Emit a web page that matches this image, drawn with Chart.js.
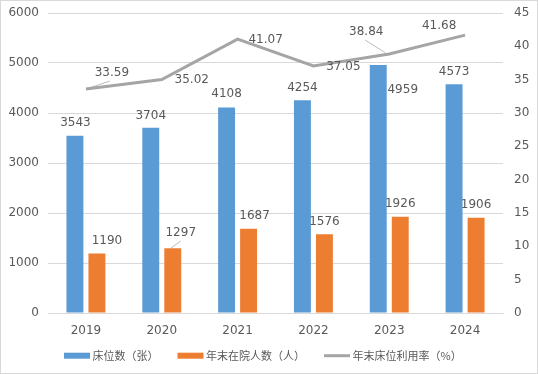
<!DOCTYPE html>
<html>
<head>
<meta charset="utf-8">
<script src="https://cdn.jsdelivr.net/npm/chart.js@4/dist/chart.umd.min.js"></script>
<style>
html, body { margin: 0; padding: 0; background: #fff; }
#box { position: absolute; left: 0; top: 0; width: 538px; height: 374px; box-sizing: border-box; border: 1px solid #d9d9d9; }
#c { display: block; }
</style>
</head>
<body>
<div id="box"><canvas id="c" width="536" height="372"></canvas></div>
<script>
// 数据
const years = ['2019', '2020', '2021', '2022', '2023', '2024'];
const beds = [3543, 3704, 4108, 4254, 4959, 4573];
const inpatients = [1190, 1297, 1687, 1576, 1926, 1906];
const usageRate = [33.59, 35.02, 41.07, 37.05, 38.84, 41.68];

const seriesNames = ['床位数（张）', '年末在院人数（人）', '年末床位利用率（%）'];

// 标签偏移 (相对于柱顶/数据点, 文字中心)
const labelOffsets = [
    [[0.5, -13], [0, -12], [0, -13.5], [0, -12.5], [24.5, 25], [0, -12.5]],
    [[10, -12.7], [8, -15], [6, -13], [0, -12.5], [0, -13], [0, -12.7]],
    [[26, -16.5], [30, 0.5], [28, 1], [30, 0.5], [-23, -22], [-26, -9.5]]
];
// 引导线
const leaders = [
    { ds: 1, i: 1, from: [-2, 0], to: [8, -7] },
    { ds: 2, i: 0, from: [0, 0], to: [24, -8] },
    { ds: 2, i: 4, from: [-24, -14], to: [-4, -1.3] }
];

const txtColor = '#595959';
const fontFam = '"DejaVu Sans", "Noto Sans CJK SC", sans-serif';
const legendFont = '11px "Noto Sans CJK SC", "DejaVu Sans", sans-serif';

const dataLabels = {
    id: 'dataLabels',
    afterDatasetsDraw(chart) {
        const ctx = chart.ctx;
        ctx.save();
        ctx.strokeStyle = '#a6a6a6';
        ctx.lineWidth = 0.75;
        leaders.forEach(l => {
            const el = chart.getDatasetMeta(l.ds).data[l.i];
            ctx.beginPath();
            ctx.moveTo(el.x + l.from[0], el.y + l.from[1]);
            ctx.lineTo(el.x + l.to[0], el.y + l.to[1]);
            ctx.stroke();
        });
        ctx.font = '12px ' + fontFam;
        ctx.fillStyle = txtColor;
        ctx.textAlign = 'center';
        ctx.textBaseline = 'middle';
        chart.data.datasets.forEach((ds, d) => {
            chart.getDatasetMeta(d).data.forEach((el, i) => {
                const off = labelOffsets[d][i];
                const v = ds.data[i];
                const s = d === 2 ? v.toFixed(2) : String(v);
                ctx.fillText(s, el.x + off[0], el.y + off[1]);
            });
        });
        ctx.restore();
    }
};

// 底部图例
const bottomLegend = {
    id: 'bottomLegend',
    afterDraw(chart) {
        const ctx = chart.ctx;
        ctx.save();
        ctx.font = legendFont;
        ctx.textBaseline = 'middle';
        ctx.textAlign = 'left';
        const boxW = 26, gapText = 2.5, gapItem = 19;
        let x = 63;
        const y = 354.7;
        chart.data.datasets.forEach(d => {
            if (d.type === 'line') {
                ctx.strokeStyle = d.borderColor;
                ctx.lineWidth = 3;
                ctx.beginPath();
                ctx.moveTo(x, y);
                ctx.lineTo(x + boxW, y);
                ctx.stroke();
            } else {
                ctx.fillStyle = d.backgroundColor;
                ctx.fillRect(x, y - 3, boxW, 6);
            }
            ctx.fillStyle = txtColor;
            ctx.fillText(d.label, x + boxW + gapText, y);
            x += boxW + gapText + ctx.measureText(d.label).width + gapItem;
        });
        ctx.restore();
    }
};

const ctx = document.getElementById('c').getContext('2d');
new Chart(ctx, {
    type: 'bar',
    data: {
        labels: years,
        datasets: [
            {
                label: seriesNames[0],
                data: beds,
                backgroundColor: '#5b9bd5',
                barPercentage: 0.77,
                categoryPercentage: 0.58,
                yAxisID: 'y',
                order: 1
            },
            {
                label: seriesNames[1],
                data: inpatients,
                backgroundColor: '#ed7d31',
                barPercentage: 0.77,
                categoryPercentage: 0.58,
                yAxisID: 'y',
                order: 2
            },
            {
                type: 'line',
                label: seriesNames[2],
                data: usageRate,
                borderColor: '#a5a5a5',
                backgroundColor: '#a5a5a5',
                borderWidth: 3,
                pointRadius: 0,
                tension: 0,
                yAxisID: 'y1',
                order: 0
            }
        ]
    },
    options: {
        responsive: false,
        animation: false,
        layout: { padding: { top: 12, left: 0, right: 0, bottom: 32 } },
        scales: {
            x: {
                grid: { display: false, drawTicks: false },
                border: { display: true, color: '#d9d9d9' },
                ticks: { color: txtColor, font: { family: fontFam, size: 12 }, padding: 11 },
                afterFit(scale) { scale.height = 28; }
            },
            y: {
                position: 'left',
                min: 0, max: 6000,
                ticks: { stepSize: 1000, color: txtColor, font: { family: fontFam, size: 12 }, padding: 9,
                    callback: v => String(v) },
                grid: { color: '#d9d9d9', drawTicks: false },
                border: { display: false },
                afterFit(scale) { scale.width = 47; scale.paddingTop = 7; scale.paddingBottom = 7; }
            },
            y1: {
                position: 'right',
                min: 0, max: 45,
                ticks: { stepSize: 5, color: txtColor, font: { family: fontFam, size: 12 }, padding: 11,
                    callback: v => String(v) },
                grid: { display: false, drawTicks: false },
                border: { display: false },
                afterFit(scale) { scale.width = 34; scale.paddingTop = 7; scale.paddingBottom = 7; }
            }
        },
        plugins: {
            tooltip: { enabled: false },
            legend: { display: false }
        }
    },
    plugins: [dataLabels, bottomLegend]
});
</script>
</body>
</html>
